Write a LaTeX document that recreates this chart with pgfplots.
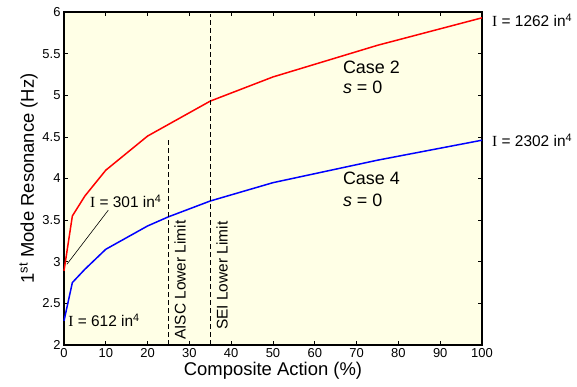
\documentclass[border=0pt]{standalone}
\usepackage{pgfplots}
\pgfplotsset{compat=1.18}
\usepackage{fontspec}
\setmainfont{Liberation Sans}
\newfontfamily\seriffont{Liberation Serif}
\definecolor{bg}{RGB}{255,255,230}
\begin{document}
\begin{tikzpicture}
\useasboundingbox (-64bp,-42bp) rectangle (513bp,345bp);
\begin{axis}[
  at={(0,0)}, anchor=south west,
  scale only axis, width=418bp, height=333bp,
  xmin=0, xmax=100, ymin=2, ymax=6,
  xtick={0,10,...,100}, ytick={2,2.5,...,6},
  tick align=inside, major tick length=4bp,
  axis background/.style={fill=bg},
  axis line style={line width=1.3bp},
  tick style={black, line width=0.7bp},
  ticklabel style={font=\fontsize{13}{14}\selectfont},
  /pgf/number format/assume math mode=true,
  label style={font=\fontsize{18.5}{20}\selectfont},
  xlabel={Composite Action (\%)},
  ylabel={1\textsuperscript{st} Mode Resonance (Hz)},
  xlabel style={yshift=2bp},
  ylabel style={yshift=-2bp},
  clip=false,
]
\addplot[red, line width=1.5bp] coordinates {(0,2.89)(2,3.55)(5,3.79)(10,4.10)(20,4.51)(35,4.93)(50,5.22)(75,5.60)(100,5.93)};
\addplot[blue, line width=1.5bp] coordinates {(0,2.29)(2,2.75)(5,2.91)(10,3.15)(20,3.43)(25,3.54)(35,3.73)(50,3.95)(75,4.22)(100,4.46)};
\addplot[black, line width=0.9bp, dash pattern=on 5bp off 3bp] coordinates {(25,2)(25,4.46)};
\addplot[black, line width=0.9bp, dash pattern=on 5bp off 3bp] coordinates {(35,2)(35,5.97)};
\draw[black, line width=0.6bp] (axis cs:0.7,2.97) -- (axis cs:10.6,3.62);
\begin{scope}[every node/.style={font=\fontsize{15.5}{17}\selectfont, inner sep=0pt, anchor=west}]
\node at (axis cs:6.2,3.73) {{\seriffont I} = 301 in\textsuperscript{4}};
\node at (axis cs:1.0,2.30) {{\seriffont I} = 612 in\textsuperscript{4}};
\node at (axis cs:102.4,5.90) {{\seriffont I} = 1262 in\textsuperscript{4}};
\node at (axis cs:102.4,4.46) {{\seriffont I} = 2302 in\textsuperscript{4}};
\end{scope}
\begin{scope}[every node/.style={font=\fontsize{18}{20}\selectfont, inner sep=0pt, anchor=west}]
\node at (axis cs:66.7,5.34) {Case 2};
\node at (axis cs:66.7,5.09) {\textit{s} = 0};
\node at (axis cs:66.7,4.00) {Case 4};
\node at (axis cs:66.7,3.74) {\textit{s} = 0};
\end{scope}
\begin{scope}[every node/.style={font=\fontsize{15.5}{17}\selectfont, inner sep=0pt, anchor=west, rotate=90}]
\node at (axis cs:27.8,2.06) {AISC Lower Limit};
\node at (axis cs:37.8,2.18) {SEI Lower Limit};
\end{scope}
\end{axis}
\end{tikzpicture}
\end{document}
